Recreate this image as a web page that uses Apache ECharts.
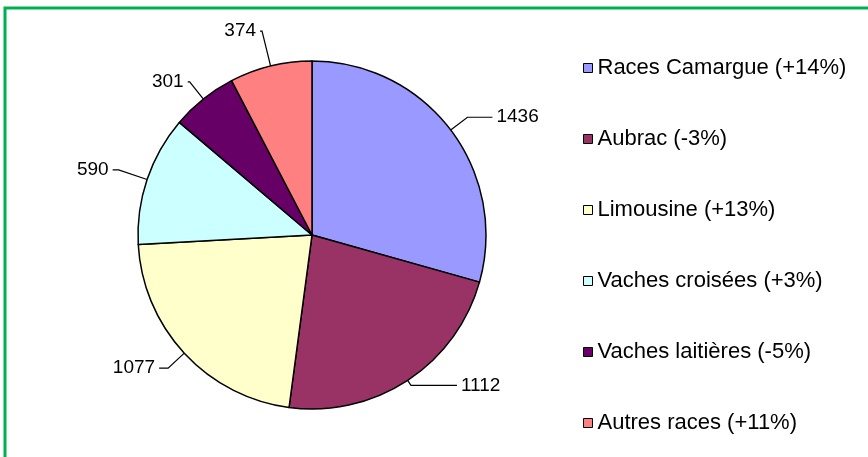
<!DOCTYPE html>
<html>
<head>
<meta charset="utf-8">
<script src="https://cdn.jsdelivr.net/npm/echarts@6/dist/echarts.min.js"></script>
<style>
  html, body { margin: 0; padding: 0; background: #fff; }
  #chart { width: 868px; height: 457px; }
</style>
</head>
<body>
<div id="chart"></div>
<script>
// breeds and head counts
const categories = [
  "Races Camargue (+14%)",
  "Aubrac (-3%)",
  "Limousine (+13%)",
  "Vaches croisées (+3%)",
  "Vaches laitières (-5%)",
  "Autres races (+11%)",
];
const values = [1436, 1112, 1077, 590, 301, 374];
const colors = ["#9999FF", "#993366", "#FFFFCC", "#CCFFFF", "#660066", "#FF8080"];

// leader line lengths per slice [radial, horizontal]
const leader = [[21, 25], [6, 46], [22, 9], [30, 6], [22, 2], [36, 2]];

const chart = echarts.init(document.getElementById("chart"), null, { renderer: "canvas" });

chart.setOption({
  animation: false,
  color: colors,
  textStyle: { fontFamily: "Liberation Sans, Arial, sans-serif" },
  graphic: [
    {
      type: "rect",
      shape: { x: 5, y: 8, width: 900, height: 500 },
      style: { fill: "none", stroke: "#00B050", lineWidth: 3 },
      silent: true,
    },
  ],
  legend: {
    orient: "vertical",
    left: 578,
    top: 52,
    icon: "rect",
    itemWidth: 9,
    itemHeight: 9,
    itemGap: 49,
    itemStyle: { borderColor: "#000", borderWidth: 1 },
    textStyle: { fontSize: 22, color: "#000", lineHeight: 20 },
    data: categories,
  },
  series: [
    {
      type: "pie",
      center: [312, 235],
      radius: 174,
      startAngle: 90,
      clockwise: true,
      avoidLabelOverlap: false,
      itemStyle: { borderColor: "#000", borderWidth: 1.5 },
      label: {
        show: true,
        position: "outside",
        formatter: "{c}",
        fontSize: 19,
        color: "#000",
        distanceToLabelLine: 4,
      },
      labelLine: {
        show: true,
        lineStyle: { color: "#000", width: 1.2 },
      },
      emphasis: { disabled: true },
      data: categories.map((name, i) => ({
        name,
        value: values[i],
        labelLine: { length: leader[i][0], length2: leader[i][1] },
      })),
    },
  ],
});
</script>
</body>
</html>
